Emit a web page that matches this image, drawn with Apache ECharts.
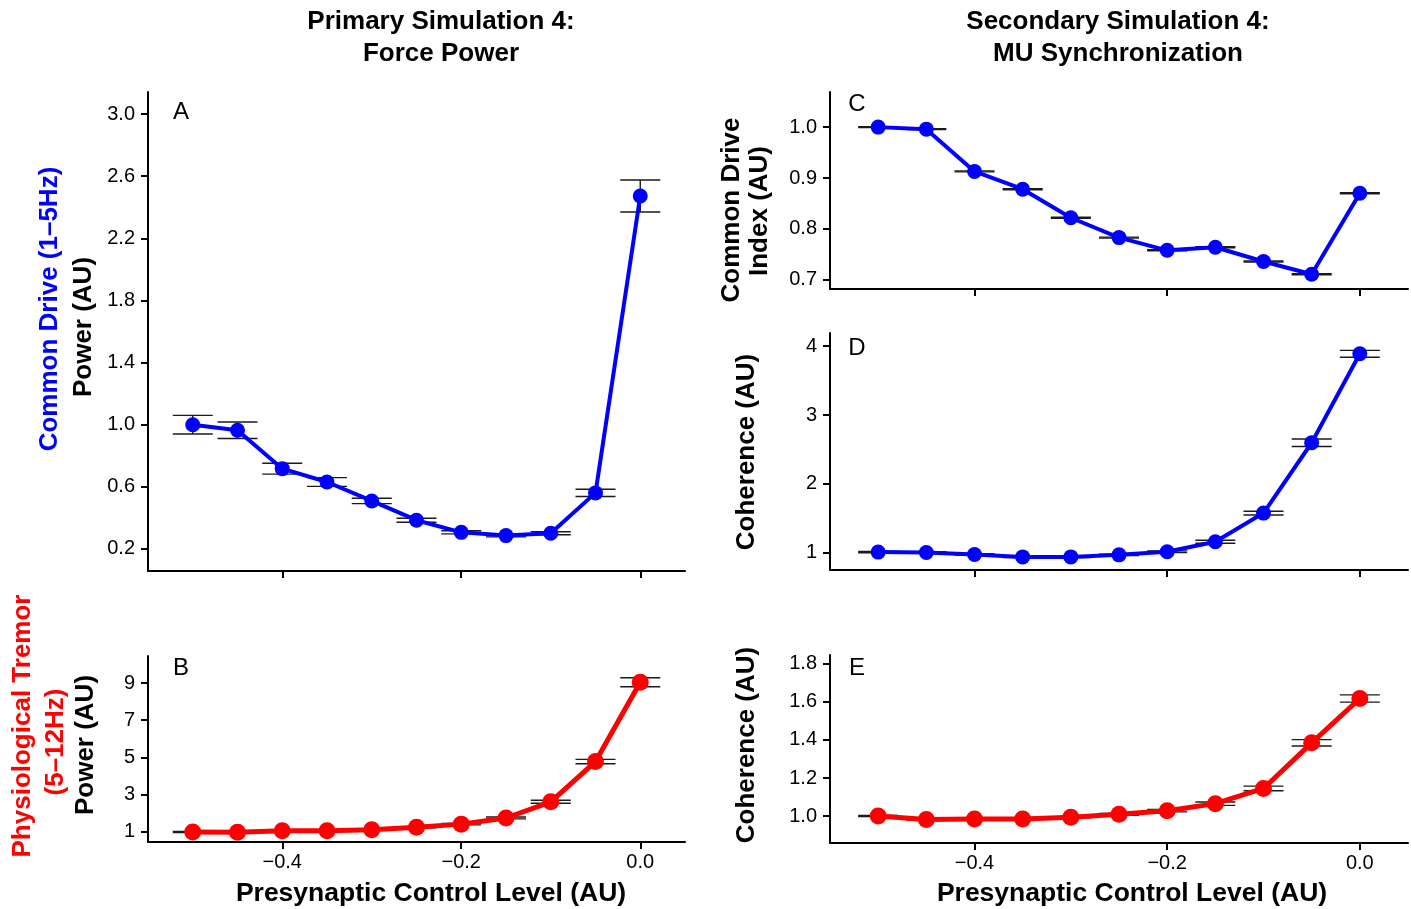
<!DOCTYPE html>
<html>
<head>
<meta charset="utf-8">
<script src="https://cdn.jsdelivr.net/npm/echarts@6/dist/echarts.min.js"></script>
<style>
  html, body { margin: 0; padding: 0; background: #fff; }
  #chart { width: 1411px; height: 909px; }
</style>
</head>
<body>
<div id="chart"></div>
<script>
// Presynaptic control levels (AU)
const controlLevels = [-0.5, -0.45, -0.4, -0.35, -0.3, -0.25, -0.2, -0.15, -0.1, -0.05, 0];

// A: common drive (1-5 Hz) force power
const powerCommon = [1.00, 0.964, 0.717, 0.631, 0.509, 0.385, 0.307, 0.286, 0.301, 0.561, 2.472];
const powerCommonErr = [0.06, 0.053, 0.035, 0.028, 0.017, 0.013, 0.010, 0.008, 0.010, 0.023, 0.103];

// B: physiological tremor (5-12 Hz) force power
const powerTremor = [1.00, 0.98, 1.07, 1.07, 1.12, 1.25, 1.42, 1.75, 2.62, 4.78, 9.04];
const powerTremorErr = [0.03, 0.03, 0.03, 0.03, 0.03, 0.03, 0.04, 0.05, 0.08, 0.12, 0.24];

// C: common drive index
const driveIndex = [1.0, 0.996, 0.913, 0.878, 0.822, 0.783, 0.758, 0.764, 0.736, 0.711, 0.870];
const driveIndexErr = [0.001, 0.001, 0.001, 0.001, 0.001, 0.001, 0.001, 0.001, 0.001, 0.001, 0.001];

// D: coherence, common drive band
const cohCommon = [1.01, 1.005, 0.976, 0.94, 0.94, 0.97, 1.015, 1.16, 1.576, 2.597, 3.888];
const cohCommonErr = [0.01, 0.01, 0.01, 0.01, 0.01, 0.01, 0.012, 0.022, 0.027, 0.055, 0.05];

// E: coherence, tremor band
const cohTremor = [1.0, 0.982, 0.984, 0.984, 0.993, 1.009, 1.028, 1.065, 1.145, 1.385, 1.618];
const cohTremorErr = [0.003, 0.003, 0.003, 0.003, 0.003, 0.005, 0.006, 0.009, 0.012, 0.017, 0.019];

// Tick positions
const xTicks = [-0.4, -0.2, 0.0];
const ticksA = [0.2, 0.6, 1.0, 1.4, 1.8, 2.2, 2.6, 3.0];
const ticksB = [1, 3, 5, 7, 9];
const ticksC = [0.7, 0.8, 0.9, 1.0];
const ticksD = [1, 2, 3, 4];
const ticksE = [1.0, 1.2, 1.4, 1.6, 1.8];

const FONT = "'Liberation Sans', Arial, Helvetica, sans-serif";
const BLUE = '#0000ff';
const RED = '#ff0000';

const chart = echarts.init(document.getElementById('chart'), null, { renderer: 'canvas' });

const grids = [
  { left: 148, top: 92,  width: 537, height: 479 }, // A
  { left: 148, top: 656, width: 537, height: 186 }, // B
  { left: 830, top: 92,  width: 578, height: 197 }, // C
  { left: 830, top: 333, width: 578, height: 237 }, // D
  { left: 830, top: 655, width: 578, height: 188 }  // E
];

function minusFmt(v, digits) {
  const s = Math.abs(v).toFixed(digits);
  return (v < -1e-9 ? '\u2212' : '') + s;
}

function xAxisFor(gridIndex, showLabels) {
  return {
    type: 'value', gridIndex, min: -0.55, max: 0.05,
    splitLine: { show: false },
    axisLine: { show: true, onZero: false, lineStyle: { color: '#000', width: 2 } },
    axisTick: { show: true, length: 7, inside: false, customValues: xTicks, lineStyle: { color: '#000', width: 2 } },
    axisLabel: {
      show: showLabels, customValues: xTicks, margin: 10,
      color: '#000', fontSize: 20, fontFamily: FONT,
      formatter: v => minusFmt(v, 1)
    }
  };
}

function yAxisFor(gridIndex, min, max, ticks, digits) {
  return {
    type: 'value', gridIndex, min, max,
    splitLine: { show: false },
    axisLine: { show: true, onZero: false, lineStyle: { color: '#000', width: 2 } },
    axisTick: { show: true, length: 7, inside: false, customValues: ticks, lineStyle: { color: '#000', width: 2 } },
    axisLabel: {
      customValues: ticks, margin: 13,
      color: '#000', fontSize: 20, fontFamily: FONT,
      formatter: v => v.toFixed(digits)
    }
  };
}

function errorBars(params, api) {
  const x = api.value(0), lo = api.value(1), hi = api.value(2);
  const pLo = api.coord([x, lo]);
  const pHi = api.coord([x, hi]);
  const hw = 20;
  const style = { stroke: '#1a1a1a', lineWidth: 1.4, fill: null };
  return {
    type: 'group',
    children: [
      { type: 'line', shape: { x1: pLo[0], y1: pLo[1], x2: pHi[0], y2: pHi[1] }, style },
      { type: 'line', shape: { x1: pLo[0] - hw, y1: pLo[1], x2: pLo[0] + hw, y2: pLo[1] }, style },
      { type: 'line', shape: { x1: pHi[0] - hw, y1: pHi[1], x2: pHi[0] + hw, y2: pHi[1] }, style }
    ]
  };
}

function panelSeries(idx, values, errs, color, symbolSize, lineWidth) {
  return [
    {
      type: 'custom', xAxisIndex: idx, yAxisIndex: idx, z: 2,
      renderItem: errorBars, clip: false, silent: true,
      data: controlLevels.map((x, i) => [x, values[i] - errs[i], values[i] + errs[i]])
    },
    {
      type: 'line', xAxisIndex: idx, yAxisIndex: idx, z: 3,
      data: controlLevels.map((x, i) => [x, values[i]]),
      symbol: 'circle', symbolSize, showSymbol: true,
      lineStyle: { color, width: lineWidth },
      itemStyle: { color, borderWidth: 0 },
      silent: true
    }
  ];
}

function vText(x, y, text, color, size) {
  return {
    type: 'text', x, y, rotation: Math.PI / 2,
    style: {
      text, fill: color, font: `bold ${size}px ${FONT}`,
      align: 'center', verticalAlign: 'middle'
    }
  };
}

function hText(x, y, text, size, weight) {
  return {
    type: 'text', x, y,
    style: {
      text, fill: '#000', font: `${weight} ${size}px ${FONT}`,
      align: 'center', verticalAlign: 'middle'
    }
  };
}

const option = {
  animation: false,
  backgroundColor: '#fff',
  grid: grids.map(g => Object.assign({ containLabel: false }, g)),
  xAxis: [
    xAxisFor(0, false),
    xAxisFor(1, true),
    xAxisFor(2, false),
    xAxisFor(3, false),
    xAxisFor(4, true)
  ],
  yAxis: [
    yAxisFor(0, 0.058, 3.142, ticksA, 1),
    yAxisFor(1, 0.46, 10.45, ticksB, 0),
    yAxisFor(2, 0.682, 1.069, ticksC, 1),
    yAxisFor(3, 0.75, 4.19, ticksD, 0),
    yAxisFor(4, 0.858, 1.847, ticksE, 1)
  ],
  series: [
    ...panelSeries(0, powerCommon, powerCommonErr, BLUE, 15, 4),
    ...panelSeries(1, powerTremor, powerTremorErr, RED, 17, 5),
    ...panelSeries(2, driveIndex, driveIndexErr, BLUE, 15, 4),
    ...panelSeries(3, cohCommon, cohCommonErr, BLUE, 15, 4),
    ...panelSeries(4, cohTremor, cohTremorErr, RED, 17, 5)
  ],
  graphic: [
    // column headings
    hText(441, 22, 'Primary Simulation 4:', 26, 'bold'),
    hText(441, 54, 'Force Power', 26, 'bold'),
    hText(1118, 22, 'Secondary Simulation 4:', 26, 'bold'),
    hText(1118, 54, 'MU Synchronization', 26, 'bold'),
    // x-axis titles
    hText(431, 894, 'Presynaptic Control Level (AU)', 26.5, 'bold'),
    hText(1132, 894, 'Presynaptic Control Level (AU)', 26.5, 'bold'),
    // panel letters
    hText(181, 112, 'A', 24, 'normal'),
    hText(181, 668, 'B', 24, 'normal'),
    hText(857, 104, 'C', 24, 'normal'),
    hText(857, 348, 'D', 24, 'normal'),
    hText(857, 668, 'E', 24, 'normal'),
    // y-axis titles
    vText(50, 309, 'Common Drive (1\u20135Hz)', BLUE, 26),
    vText(84, 327, 'Power (AU)', '#000', 26),
    vText(23, 726, 'Physiological Tremor', RED, 26),
    vText(56, 742, '(5\u201312Hz)', RED, 26),
    vText(86, 745, 'Power (AU)', '#000', 26),
    vText(732, 210, 'Common Drive', '#000', 26),
    vText(760, 211, 'Index (AU)', '#000', 26),
    vText(747, 452, 'Coherence (AU)', '#000', 26),
    vText(747, 745, 'Coherence (AU)', '#000', 26)
  ]
};

chart.setOption(option);
</script>
</body>
</html>
